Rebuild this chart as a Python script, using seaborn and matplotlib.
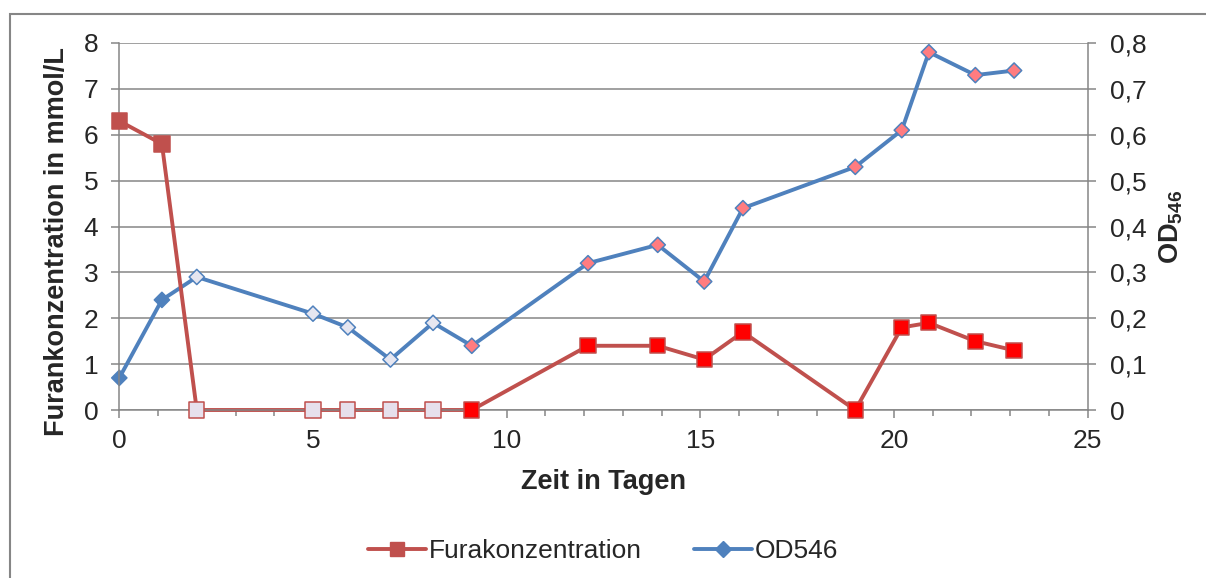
# %%
# import some packages
import numpy as np
import pandas as pd
import matplotlib
matplotlib.use('Agg')
import matplotlib.pyplot as plt
from matplotlib.lines import Line2D
from matplotlib.patches import Rectangle
import seaborn as sns

# data
tage = [0, 1.1, 2, 5, 5.9, 7, 8.1, 9.1, 12.1, 13.9, 15.1, 16.1, 19, 20.2, 20.9, 22.1, 23.1]
furan = [6.3, 5.8, 0, 0, 0, 0, 0, 0, 1.4, 1.4, 1.1, 1.7, 0, 1.8, 1.9, 1.5, 1.3]
od546 = [0.07, 0.24, 0.29, 0.21, 0.18, 0.11, 0.19, 0.14, 0.32, 0.36, 0.28, 0.44, 0.53, 0.61, 0.78, 0.73, 0.74]
# marker fill group of every point (the chart colours its markers per point)
fill_group = ['dark', 'dark', 'light', 'light', 'light', 'light', 'light', 'bright',
              'bright', 'bright', 'bright', 'bright', 'bright', 'bright', 'bright', 'bright', 'bright']
fura_ticks = [0, 1, 2, 3, 4, 5, 6, 7, 8]
od_ticks = [0, 0.1, 0.2, 0.3, 0.4, 0.5, 0.6, 0.7, 0.8]
od_tick_labels = ['0', '0,1', '0,2', '0,3', '0,4', '0,5', '0,6', '0,7', '0,8']
x_ticks = [0, 5, 10, 15, 20, 25]

df = pd.DataFrame({'Tag': tage, 'Furan': furan, 'OD546': od546, 'fill': fill_group})

red = '#C0504D'
blue = '#4F81BD'
grey = '#868686'
fura_palette = {'dark': red, 'light': '#E6E0EC', 'bright': '#FF0000'}
od_palette = {'dark': blue, 'light': '#E6E6F0', 'bright': '#FF7C80'}

# %%
sns.set_style('white')
plt.rcParams['font.family'] = ['Liberation Sans', 'DejaVu Sans']
plt.rcParams['mathtext.fontset'] = 'custom'
plt.rcParams['mathtext.rm'] = 'Liberation Sans'
plt.rcParams['mathtext.bf'] = 'Liberation Sans:bold'

fig = plt.figure(figsize=[12.06, 5.78], dpi=100)
ax = fig.add_axes([119.3 / 1206, 1 - 410 / 578, (1087.7 - 119.3) / 1206, (410 - 43) / 578])
ax2 = ax.twinx()

# OD on the secondary axis (drawn below), grid lives here too
ax2.grid(axis='y', color=grey, lw=1.1)
ax2.set_axisbelow(True)
sns.lineplot(data=df, x='Tag', y='OD546', color=blue, lw=2.8, estimator=None, sort=False, ax=ax2,
             zorder=2, clip_on=False)
sns.scatterplot(data=df, x='Tag', y='OD546', hue='fill', palette=od_palette, marker='D', s=60,
                edgecolor=blue, linewidth=1.1, legend=False, ax=ax2, zorder=3, clip_on=False)

# Furan concentration on the primary axis, put on top
ax.set_zorder(ax2.get_zorder() + 1)
ax.patch.set_visible(False)
sns.lineplot(data=df, x='Tag', y='Furan', color=red, lw=2.8, estimator=None, sort=False, ax=ax,
             zorder=2, clip_on=False)
sns.scatterplot(data=df, x='Tag', y='Furan', hue='fill', palette=fura_palette, marker='s', s=120,
                edgecolor=red, linewidth=1.1, legend=False, ax=ax, zorder=3, clip_on=False)

# axes limits and ticks
ax.set_xlim(0, 25)
ax.set_ylim(0, 8)
ax2.set_ylim(0, 0.8)
ax.set_xticks(x_ticks)
ax.set_xticks(np.arange(0, 26, 1), minor=True)
ax.set_yticks(fura_ticks)
ax2.set_yticks(od_ticks)
ax2.set_yticklabels(od_tick_labels)

for a in (ax, ax2):
    for s in a.spines.values():
        s.set_visible(False)
ax.spines['left'].set_visible(True)
ax.spines['bottom'].set_visible(True)
ax2.spines['right'].set_visible(True)
for s in (ax.spines['left'], ax.spines['bottom'], ax2.spines['right']):
    s.set_color(grey)
    s.set_linewidth(1.1)

ax.tick_params(axis='both', which='major', direction='out', length=6, width=1.1, color=grey,
               labelsize=19, pad=8, left=True, bottom=True)
ax.tick_params(axis='x', which='minor', direction='out', length=4, width=1.1, color=grey, bottom=True)
ax.tick_params(axis='y', pad=9)
ax2.tick_params(axis='y', direction='out', length=6, width=1.1, color=grey, labelsize=19, pad=10, right=True)

ax.set_xlabel('Zeit in Tagen', fontsize=19.5, fontweight='bold', labelpad=11)
ax.set_ylabel('Furankonzentration in mmol/L', fontsize=19.5, fontweight='bold')
ax.yaxis.set_label_coords(-0.051, 0.458)
ax2.set_ylabel('$\\mathbf{OD}_{\\mathbf{546}}$', fontsize=19.5, labelpad=8)

# legend below the chart
handles = [Line2D([], [], color=red, lw=2.8, marker='s', markersize=10),
           Line2D([], [], color=blue, lw=2.8, marker='D', markersize=8)]
fig.legend(handles, ['Furakonzentration', 'OD546'], loc='center', bbox_to_anchor=(0.5, 0.047),
           ncol=2, frameon=False, fontsize=19, handlelength=2.2, handletextpad=0.1, columnspacing=2.0)

# outer chart frame (cut off at right and bottom)
fig.patches.append(Rectangle((10 / 1206, -0.2), 1.2, 1.2 - 14 / 578, transform=fig.transFigure,
                             fill=False, edgecolor=grey, lw=1.5))

fig.savefig('out.png', dpi=100)
